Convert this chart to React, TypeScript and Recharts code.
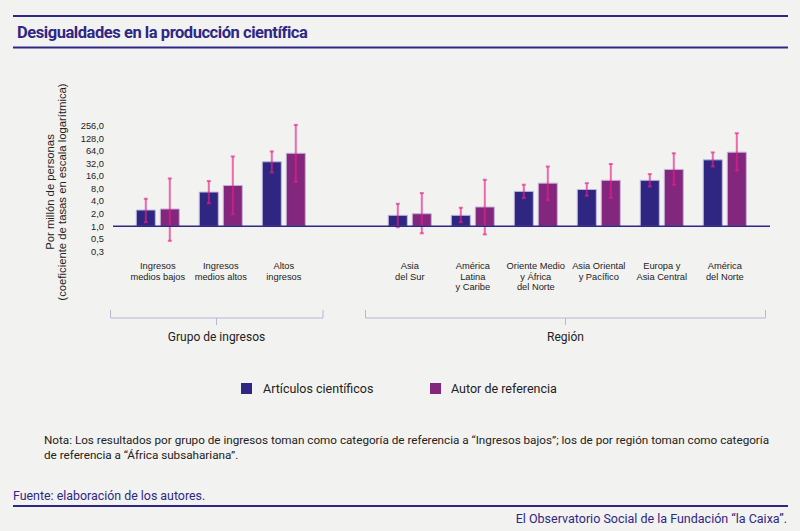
import React from 'react';
import { BarChart, Bar, XAxis, YAxis, ErrorBar, ReferenceLine } from 'recharts';

// ---- Data (values per million people, log scale in the picture) ----
const categoryLines: string[][] = [
  ['Ingresos', 'medios bajos'],
  ['Ingresos', 'medios altos'],
  ['Altos', 'ingresos'],
  [],
  ['Asia', 'del Sur'],
  ['América', 'Latina', 'y Caribe'],
  ['Oriente Medio', 'y África', 'del Norte'],
  ['Asia Oriental', 'y Pacífico'],
  ['Europa y', 'Asia Central'],
  ['América', 'del Norte'],
];

const articulosValues: (number | null)[] = [2.45, 6.6, 35, null, 1.83, 1.83, 6.85, 7.6, 12.6, 39];
const articulosLow: (number | null)[] = [1.25, 3.55, 19.5, null, 0.95, 1.25, 4.75, 5.4, 9.0, 27];
const articulosHigh: (number | null)[] = [4.56, 12.1, 62, null, 3.46, 2.78, 9.9, 10.8, 17.8, 58.6];

const autorValues: (number | null)[] = [2.6, 9.5, 56, null, 2.0, 2.9, 10.8, 12.6, 23, 59.6];
const autorLow: (number | null)[] = [0.45, 1.93, 11.6, null, 0.68, 0.64, 4.2, 4.8, 9.9, 21.7];
const autorHigh: (number | null)[] = [14, 47, 267, null, 6.25, 13, 27, 31, 56, 169];

const yTickValues = [0.25, 0.5, 1, 2, 4, 8, 16, 32, 64, 128, 256];

const seriesNames = ['Artículos científicos', 'Autor de referencia'];
const groupLabels = ['Grupo de ingresos', 'Región'];

const titleText = 'Desigualdades en la producción científica';
const noteLines = [
  'Nota: Los resultados por grupo de ingresos toman como categoría de referencia a “Ingresos bajos”; los de por región toman como categoría',
  'de referencia a “África subsahariana”.',
];
const sourceText = 'Fuente: elaboración de los autores.';
const footerText = 'El Observatorio Social de la Fundación “la Caixa”.';

// ---- Build table (log2 transform for plotting) ----
const lg = (v: number | null) => (v == null ? null : Math.log2(v));
const errPair = (v: number | null, lo: number | null, hi: number | null) =>
  v == null || lo == null || hi == null ? undefined : [Math.log2(v) - Math.log2(lo), Math.log2(hi) - Math.log2(v)];

const data = categoryLines.map((lines, i) => ({
  name: lines.join(' ') || `gap${i}`,
  art: lg(articulosValues[i]),
  artErr: errPair(articulosValues[i], articulosLow[i], articulosHigh[i]),
  aut: lg(autorValues[i]),
  autErr: errPair(autorValues[i], autorLow[i], autorHigh[i]),
}));

const yTicks = yTickValues.map((v) => Math.log2(v));

const BG = '#f2f2f0';
const NAVY = '#2e2680';
const PURPLE = '#82267e';
const INK = '#2f2785';
const ERR = '#ea1f83';
const BRACKET = '#bab5da';

const XTick = (props: any) => {
  const { x, y, payload } = props;
  const lines = categoryLines[payload.index] || [];
  return (
    <g>
      {lines.map((l, k) => (
        <text
          key={k}
          x={x}
          y={y + 11.5 + k * 10.6}
          textAnchor="middle"
          fontFamily="'Liberation Sans', Arial, sans-serif"
          fontSize={9.3}
          fill="#222"
        >
          {l}
        </text>
      ))}
    </g>
  );
};

const YTick = (props: any) => {
  const { x, y, payload } = props;
  const label = Math.pow(2, payload.value).toFixed(1).replace('.', ',');
  return (
    <text
      x={x}
      y={y}
      dy={3.3}
      textAnchor="end"
      fontFamily="'Liberation Sans', Arial, sans-serif"
      fontSize={9.3}
      fill="#222"
    >
      {label}
    </text>
  );
};

export default function App() {
  return (
    <div style={{ position: 'absolute', left: 0, top: 0, width: 800, height: 531, background: BG, overflow: 'hidden' }}>
      <svg width={800} height={531} style={{ position: 'absolute', left: 0, top: 0 }}>
        {/* title */}
        <line x1={13} x2={788} y1={16} y2={16} stroke={INK} strokeWidth={2} />
        <text x={17} y={37.5} fontFamily="Roboto, sans-serif" fontWeight={700} fontSize={16.5} letterSpacing={-0.45} fill={INK}>
          {titleText}
        </text>
        <line x1={13} x2={788} y1={47.5} y2={47.5} stroke={INK} strokeWidth={2} />

        {/* y axis title */}
        <g transform="translate(50,192) rotate(-90)">
          <text x={0} y={4} textAnchor="middle" fontFamily="'Liberation Sans', Arial, sans-serif" fontSize={11.3} fill="#222">
            Por millón de personas
          </text>
        </g>
        <g transform="translate(61.5,192) rotate(-90)">
          <text x={0} y={4} textAnchor="middle" fontFamily="'Liberation Sans', Arial, sans-serif" fontSize={11.3} fill="#222">
            (coeficiente de tasas en escala logarítmica)
          </text>
        </g>

        {/* group brackets */}
        <path d="M110.5,310 V318 H323 V310 M216.5,318 V325" fill="none" stroke={BRACKET} strokeWidth={1} />
        <path d="M365.5,310 V318 H765.5 V310 M565.5,318 V325" fill="none" stroke={BRACKET} strokeWidth={1} />
        <text x={216.5} y={341} textAnchor="middle" fontFamily="Roboto, sans-serif" fontSize={12} fill="#222">
          {groupLabels[0]}
        </text>
        <text x={565.5} y={341} textAnchor="middle" fontFamily="Roboto, sans-serif" fontSize={12} fill="#222">
          {groupLabels[1]}
        </text>

        {/* legend */}
        <rect x={241} y={383} width={11} height={11} fill={NAVY} />
        <text x={263} y={392.5} fontFamily="Roboto, sans-serif" fontSize={12.5} fill="#222">
          {seriesNames[0]}
        </text>
        <rect x={430} y={383} width={11} height={11} fill={PURPLE} />
        <text x={451} y={392.5} fontFamily="Roboto, sans-serif" fontSize={12.5} fill="#222">
          {seriesNames[1]}
        </text>

        {/* note */}
        <text x={44} y={444} fontFamily="Roboto, sans-serif" fontSize={11.7} fill="#222">
          {noteLines[0]}
        </text>
        <text x={44} y={459} fontFamily="Roboto, sans-serif" fontSize={11.7} fill="#222">
          {noteLines[1]}
        </text>

        {/* source + footer */}
        <text x={13} y={500} fontFamily="Roboto, sans-serif" fontSize={12.4} fill={INK}>
          {sourceText}
        </text>
        <line x1={13} x2={788} y1={506} y2={506} stroke={INK} strokeWidth={2} />
        <text x={787} y={523} textAnchor="end" fontFamily="Roboto, sans-serif" fontSize={12.5} fill={INK}>
          {footerText}
        </text>
      </svg>

      <div style={{ position: 'absolute', left: 0, top: 0 }}>
        <BarChart
          width={800}
          height={531}
          data={data}
          margin={{ top: 119.41, right: 30, bottom: 233.26, left: 53 }}
          barSize={19}
          barGap={5}
        >
          <XAxis
            dataKey="name"
            axisLine={false}
            tickLine={false}
            tickSize={0}
            tickMargin={0}
            height={40}
            interval={0}
            padding={{ left: 13.3, right: 13.7 }}
            tick={<XTick />}
          />
          <YAxis
            type="number"
            domain={[-2.5, 8.5]}
            allowDataOverflow
            ticks={yTicks}
            interval={0}
            axisLine={false}
            tickLine={false}
            tickSize={0}
            tickMargin={9}
            width={60}
            tick={<YTick />}
          />
          <Bar dataKey="art" fill={NAVY} stroke="#bdb6dc" strokeWidth={1} isAnimationActive={false}>
            <ErrorBar dataKey="artErr" width={2} stroke={ERR} strokeOpacity={0.65} strokeWidth={2} direction="y" />
          </Bar>
          <Bar dataKey="aut" fill={PURPLE} stroke="#c5b4d8" strokeWidth={1} isAnimationActive={false}>
            <ErrorBar dataKey="autErr" width={2} stroke={ERR} strokeOpacity={0.65} strokeWidth={2} direction="y" />
          </Bar>
          <ReferenceLine y={0} stroke={INK} strokeWidth={1.5} ifOverflow="visible" />
        </BarChart>
      </div>
    </div>
  );
}
